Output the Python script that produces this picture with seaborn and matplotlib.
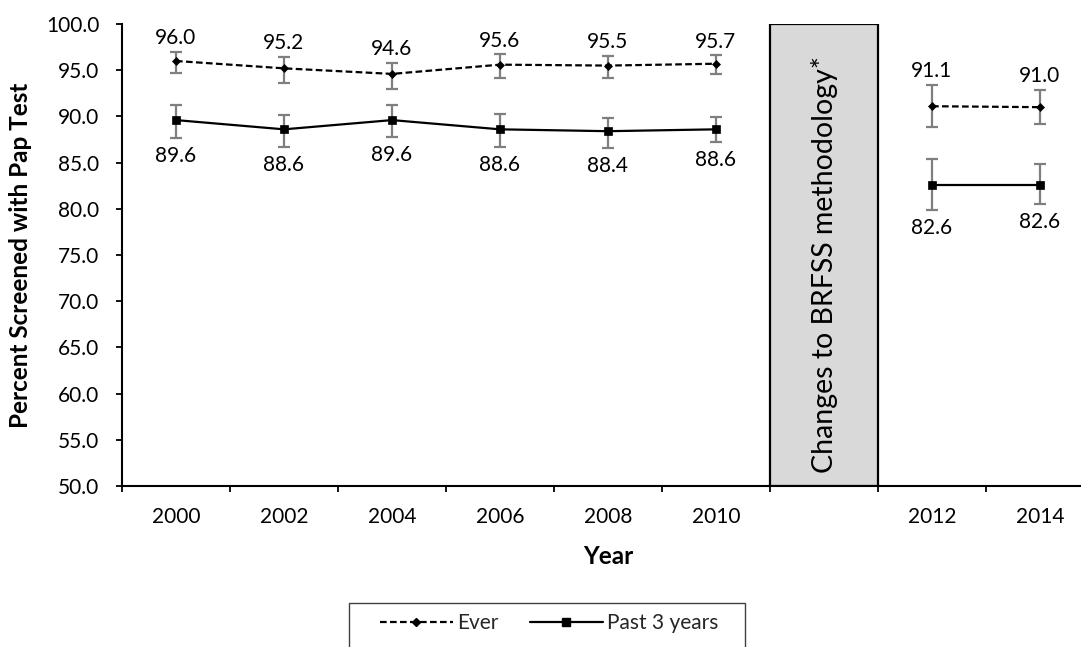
import numpy as np
import pandas as pd
import seaborn as sns
import matplotlib.pyplot as plt
from matplotlib.lines import Line2D
from matplotlib.patches import Rectangle

# Survey years and the screening percentages with their confidence limits
years = ['2000', '2002', '2004', '2006', '2008', '2010', '2012', '2014']
ever = [96.0, 95.2, 94.6, 95.6, 95.5, 95.7, 91.1, 91.0]
ever_lo = [94.7, 93.6, 93.0, 94.2, 94.2, 94.6, 88.8, 89.2]
ever_hi = [97.0, 96.4, 95.8, 96.7, 96.5, 96.6, 93.4, 92.9]
past3 = [89.6, 88.6, 89.6, 88.6, 88.4, 88.6, 82.6, 82.6]
past3_lo = [87.7, 86.7, 87.8, 86.7, 86.6, 87.2, 79.9, 80.5]
past3_hi = [91.2, 90.2, 91.2, 90.3, 89.8, 89.9, 85.4, 84.8]
period = ['2000-2010'] * 6 + ['2012-2014'] * 2
series_names = ['Ever', 'Past 3 years']
note = 'Changes to BRFSS methodology*'

sns.set_theme(style='ticks')
plt.rcParams['font.family'] = ['Lato', 'DejaVu Sans']

FS = 15          # tick, value and legend text
FS_TITLE = 17.5  # axis titles

# one empty slot on the category axis separates the two survey methodologies
gap_slot = 6
pos = np.array([i + (i >= gap_slot) for i in range(len(years))], dtype=float)

df = pd.concat([
    pd.DataFrame({'pos': pos, 'value': ever, 'lo': ever_lo, 'hi': ever_hi,
                  'series': series_names[0], 'period': period}),
    pd.DataFrame({'pos': pos, 'value': past3, 'lo': past3_lo, 'hi': past3_hi,
                  'series': series_names[1], 'period': period}),
], ignore_index=True)

W, H = 1081, 647
fig = plt.figure(figsize=(W / 100, H / 100), dpi=100)
ax = fig.add_axes([122 / W, 1 - 486 / H, 972 / W, 462 / H])

# methodology-change band
ax.axvspan(gap_slot - 0.5, gap_slot + 0.5, facecolor='#d9d9d9',
           edgecolor='black', lw=1.6, zorder=1)
ax.text(gap_slot, 74.0, note, rotation=90, ha='center', va='center',
        fontsize=20.5, color='black', zorder=2)

# confidence intervals
for name, sub in df.groupby('series'):
    v = sub['value'].to_numpy()
    ax.errorbar(sub['pos'], v, yerr=[v - sub['lo'].to_numpy(), sub['hi'].to_numpy() - v],
                fmt='none', ecolor='#7f7f7f', elinewidth=1.6, capsize=4,
                capthick=1.6, zorder=3)

sns.lineplot(data=df, x='pos', y='value', style='series', units='period',
             estimator=None, sort=False, color='black', lw=1.6,
             markers={'Ever': 'D', 'Past 3 years': 's'},
             dashes={'Ever': (3, 1.5), 'Past 3 years': ''},
             markersize=6, markeredgecolor='black', markeredgewidth=0.5,
             legend=False, ax=ax, zorder=4)
for line in ax.lines:
    if line.get_marker() == 'D':
        line.set_markersize(4.2)

# value labels: "Ever" above its interval, "Past 3 years" below
for p, v, hi in zip(pos, ever, ever_hi):
    ax.annotate(f'{v:.1f}', (p, hi), xytext=(0, 10), textcoords='offset points',
                ha='center', va='center', fontsize=FS, color='black')
for p, v, lo in zip(pos, past3, past3_lo):
    ax.annotate(f'{v:.1f}', (p, lo), xytext=(0, -13), textcoords='offset points',
                ha='center', va='center', fontsize=FS, color='black')

# axes
n_slots = len(years) + 1
ax.set_xlim(-0.5, n_slots - 0.5)
ax.set_ylim(50, 100)
yt = np.arange(50, 100.1, 5)
ax.set_yticks(yt)
ax.set_yticklabels([f'{t:.1f}' for t in yt])
ax.set_xticks(np.arange(-0.5, n_slots, 1.0))
ax.set_xticklabels([])
ax.set_xticks(pos, minor=True)
ax.set_xticklabels(years, minor=True)
ax.tick_params(axis='x', which='major', length=4.3, width=1.3, color='black', direction='out')
ax.tick_params(axis='x', which='minor', length=0, pad=15, labelsize=FS, labelcolor='black')
ax.tick_params(axis='y', length=4.3, width=1.3, color='black', pad=12, labelsize=FS,
               labelcolor='black')
for side in ['top', 'right']:
    ax.spines[side].set_visible(False)
for side in ['left', 'bottom']:
    ax.spines[side].set_color('black')
    ax.spines[side].set_linewidth(1.5)

ax.set_xlabel('Year', fontsize=FS_TITLE, fontweight='bold', color='black', labelpad=13)
ax.set_ylabel('Percent Screened with Pap Test', fontsize=FS_TITLE, fontweight='bold',
              color='black')
ax.yaxis.set_label_coords(-0.0926, 0.5)

# legend
handles = [
    Line2D([], [], color='black', lw=1.6, ls=(0, (3, 1.5)), marker='D', markersize=4.2),
    Line2D([], [], color='black', lw=1.6, marker='s', markersize=6),
]
fig.legend(handles, series_names, loc='center', bbox_to_anchor=(549 / W, 1 - 623 / H),
           ncol=2, frameon=False, handlelength=3.5, columnspacing=1.5, fontsize=FS,
           handletextpad=0.2)
fig.add_artist(Rectangle((349 / W, -0.05), (745 - 349) / W, 0.05 + 1 - 603 / H,
                         transform=fig.transFigure, fill=False, edgecolor='#404040',
                         lw=1.0, clip_on=False))

fig.savefig('out.png', dpi=100)
